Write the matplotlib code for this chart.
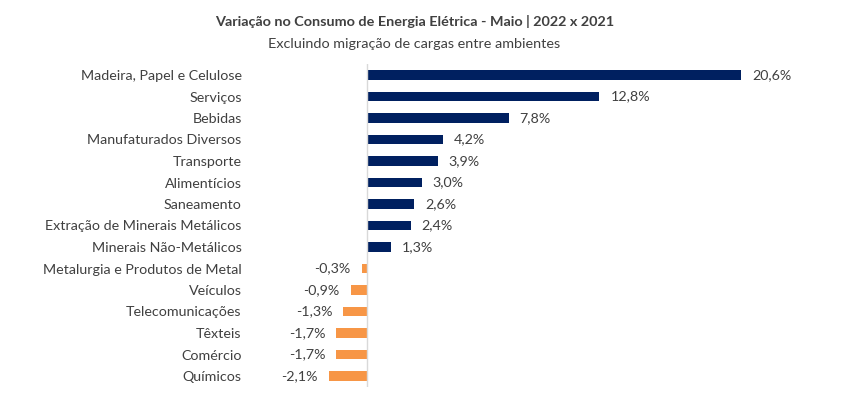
import matplotlib.pyplot as plt

categorias = ['Madeira, Papel e Celulose', 'Serviços', 'Bebidas', 'Manufaturados Diversos',
              'Transporte', 'Alimentícios', 'Saneamento', 'Extração de Minerais Metálicos',
              'Minerais Não-Metálicos', 'Metalurgia e Produtos de Metal', 'Veículos',
              'Telecomunicações', 'Têxteis', 'Comércio', 'Químicos']
valores = [20.6, 12.8, 7.8, 4.2, 3.9, 3.0, 2.6, 2.4, 1.3, -0.3, -0.9, -1.3, -1.7, -1.7, -2.1]

azul = '#002060'
laranja = '#F79646'
cinza = '#404040'

plt.rcParams['font.family'] = ['Lato', 'DejaVu Sans']

fig = plt.figure(figsize=(8.54, 3.95), dpi=100)
# eixo: 15 faixas de 21,5 px, de y=64 a y=387 px (a partir do topo)
ax = fig.add_axes([250 / 854, 8.25 / 395, 550 / 854, 322.5 / 395])

y = list(range(len(categorias)))
cores = [azul if v >= 0 else laranja for v in valores]
ax.barh(y, valores, height=0.42, color=cores)
ax.set_yticks(y)
ax.set_yticklabels(categorias, fontsize=10.3, color=cinza)
ax.set_ylim(len(categorias) - 0.5, -0.5)
ax.set_xlim(-6.45, 23.85)
ax.tick_params(axis='y', length=0, pad=6)
ax.set_xticks([])
for s in ax.spines.values():
    s.set_visible(False)
ax.axvline(0, color='#d9d9d9', lw=1)

for yi, v in zip(y, valores):
    txt = f'{v:.1f}%'.replace('.', ',')
    if v >= 0:
        ax.text(v + 0.6, yi, txt, va='center', ha='left', fontsize=10.3, color=cinza)
    else:
        ax.text(v - 0.6, yi, txt, va='center', ha='right', fontsize=10.3, color=cinza)

fig.text(0.485, 1 - 22 / 395, 'Variação no Consumo de Energia Elétrica - Maio | 2022 x 2021',
         ha='center', va='center', fontsize=10.4, fontweight='bold', color=cinza)
fig.text(0.485, 1 - 44 / 395, 'Excluindo migração de cargas entre ambientes',
         ha='center', va='center', fontsize=10.4, color=cinza)

fig.savefig('out.png', dpi=100)
